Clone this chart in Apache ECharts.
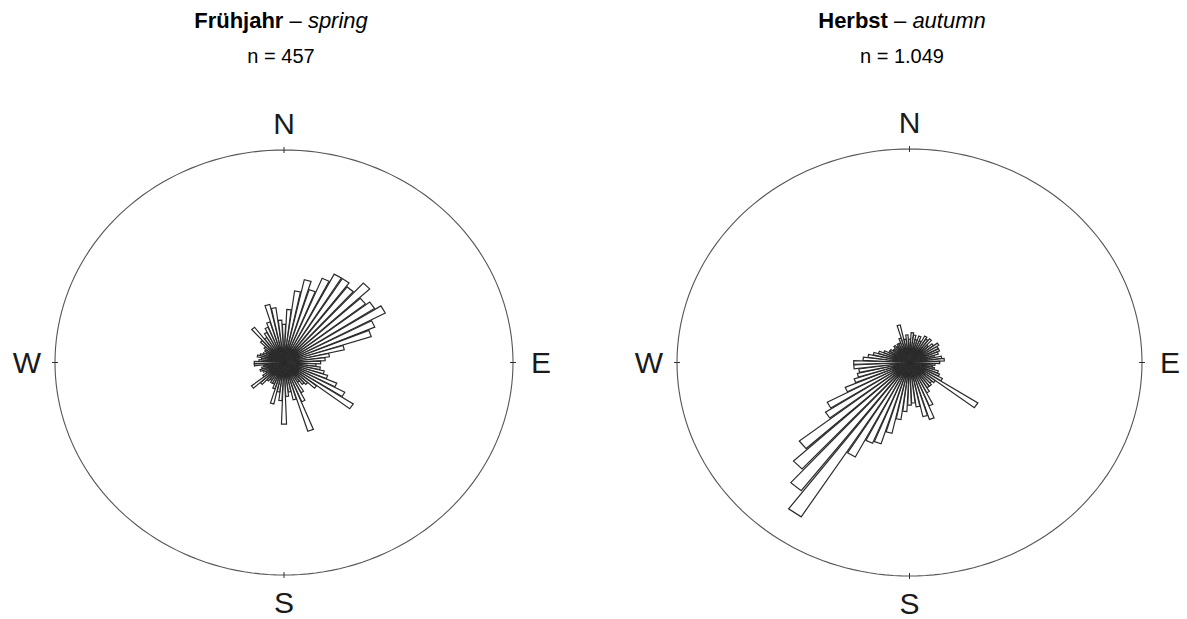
<!DOCTYPE html>
<html><head><meta charset="utf-8">
<script src="https://cdn.jsdelivr.net/npm/echarts@6/dist/echarts.min.js"></script>
<style>html,body{margin:0;padding:0;background:#fff;}#c{width:1187px;height:619px;}</style>
</head><body><div id="c"></div>
<script>
// direction bins (degrees, clockwise from north)
const binAngles = [0,5,10,15,20,25,30,35,40,45,50,55,60,65,70,75,
  80,85,90,95,100,105,110,115,120,125,
  130,135,140,145,150,155,160,165,170,175,
  180,185,190,195,200,205,210,215,220,225,
  230,235,240,245,250,255,260,265,270,275,
  280,285,290,295,300,305,310,315,320,325,
  330,335,340,345,350,355];
// petal lengths (percent of outer circle radius)
const springValues = [18,25,34,40,36,43,47,47,45,51,45,47,50,43,40,27,
  20,18,16,14,16,18,20,25,30,36,
  18,14,13,11,16,20,34,18,14,16,
  29,18,14,20,13,11,11,10,11,14,
  18,11,9,10,11,10,9,13,13,11,
  10,12,11,10,9,10,11,14,21,14,
  16,18,20,28,26,20];
const autumnValues = [11,14,13,11,13,11,14,13,14,11,13,15,14,14,13,11,
  14,15,13,11,10,11,13,14,16,35,
  14,13,14,14,16,22,28,26,21,19,
  20,23,27,34,40,41,50,86,76,68,
  60,43,40,30,25,23,22,24,24,20,
  18,16,14,12,10,10,9,9,10,9,
  10,10,12,18,11,13];
const outerRadius = [100];
const compassLabels = ['N','E','S','W'];
const compassAngles = [0,90,180,270];
const springTitle = ['Frühjahr','spring','n = 457'];
const autumnTitle = ['Herbst','autumn','n = 1.049'];

const FONT = '"Liberation Sans", Arial, Helvetica, sans-serif';
const D2R = Math.PI/180;

function petal(params, api) {
  const a = api.value(0)*D2R, len = api.value(1), h = 2.2*D2R;
  const c = api.coord([0,0]);
  const p1 = api.coord([len*Math.sin(a-h), len*Math.cos(a-h)]);
  const p2 = api.coord([len*Math.sin(a+h), len*Math.cos(a+h)]);
  return {type:'polygon', shape:{points:[c,p1,p2]},
    style:{fill:'#fff', stroke:'#2a2a2a', lineWidth:1.2}};
}
function frame(params, api) {
  const R = api.value(0);
  const pts = [];
  for (let i=0;i<360;i+=2){ const t=i*D2R; pts.push(api.coord([R*Math.sin(t), R*Math.cos(t)])); }
  const children = [{type:'polygon', shape:{points:pts}, style:{fill:'none', stroke:'#555', lineWidth:1.1}}];
  compassAngles.forEach((d,k)=>{
    const t=d*D2R;
    const p = api.coord([R*Math.sin(t), R*Math.cos(t)]);
    const ux=Math.round(Math.sin(t)), uy=-Math.round(Math.cos(t));
    children.push({type:'line', shape:{x1:p[0]-ux*3, y1:p[1]-uy*3, x2:p[0]+ux*3, y2:p[1]+uy*3},
      style:{stroke:'#333', lineWidth:1}});
    children.push({type:'text', x:p[0]+ux*28, y:p[1]+uy*27,
      style:{text:compassLabels[k], fontSize:30, lineHeight:30, fontFamily:FONT, fill:'#1a1a1a', align:'center', verticalAlign:'middle'}});
  });
  return {type:'group', children};
}

const chart = echarts.init(document.getElementById('c'), null, {renderer:'svg'});
const axisX = i => ({gridIndex:i, type:'value', min:-100, max:100, show:false});
const petalData = vals => binAngles.map((a,i)=>[a, vals[i]]);
function titleEls(t, x) {
  return [
    {type:'text', x:x, y:20, style:{text:'{b|'+t[0]+'} – {i|'+t[1]+'}', fontSize:22, fontFamily:FONT, fill:'#000',
      align:'center', verticalAlign:'middle',
      rich:{b:{fontWeight:'bold', fontSize:22, fontFamily:FONT, fill:'#000'}, i:{fontStyle:'italic', fontSize:22, fontFamily:FONT, fill:'#000'}}}},
    {type:'text', x:x, y:56, style:{text:t[2], fontSize:20, fontFamily:FONT, fill:'#000', align:'center', verticalAlign:'middle'}}
  ];
}
chart.setOption({
  animation:false,
  grid:[{left:55, top:150, width:458, height:425},{left:677, top:149, width:465, height:427}],
  xAxis:[axisX(0), axisX(1)],
  yAxis:[axisX(0), axisX(1)],
  graphic: titleEls(springTitle, 281).concat(titleEls(autumnTitle, 902)),
  series:[
    {type:'custom', xAxisIndex:0, yAxisIndex:0, renderItem:frame, data:[outerRadius], silent:true},
    {type:'custom', xAxisIndex:0, yAxisIndex:0, renderItem:petal, data:petalData(springValues), silent:true},
    {type:'custom', xAxisIndex:1, yAxisIndex:1, renderItem:frame, data:[outerRadius], silent:true},
    {type:'custom', xAxisIndex:1, yAxisIndex:1, renderItem:petal, data:petalData(autumnValues), silent:true}
  ]
});
</script></body></html>
